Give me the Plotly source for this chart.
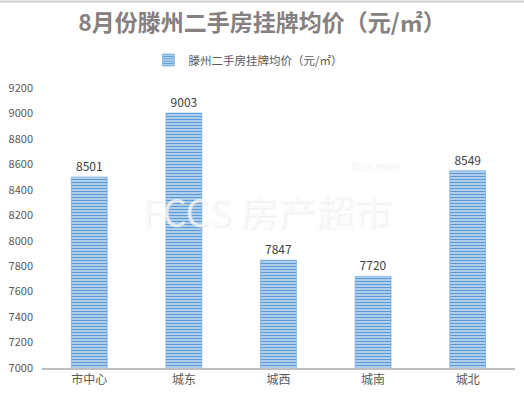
import plotly.graph_objects as go

categories = ["市中心", "城东", "城西", "城南", "城北"]
values = [8501, 9003, 7847, 7720, 8549]
series_name = "滕州二手房挂牌均价（元/㎡）"
title_text = "8月份滕州二手房挂牌均价（元/㎡）"
y_ticks = [7000, 7200, 7400, 7600, 7800, 8000, 8200, 8400, 8600, 8800, 9000, 9200]

fig = go.Figure()
fig.add_trace(go.Bar(
    x=categories, y=values, name=series_name,
    text=[str(v) for v in values], textposition="outside",
    textfont=dict(size=12, color="#404040", family="Noto Sans CJK SC"),
    cliponaxis=False,
    marker=dict(
        color="#c9def3",
        line=dict(width=0.6, color="#6fa5d9"),
        pattern=dict(shape="-", fgcolor="#5b9bd5", bgcolor="#d6e6f6",
                     size=3, solidity=0.55, fillmode="replace"),
    ),
    showlegend=True,
))

fig.update_layout(
    width=524, height=399,
    margin=dict(l=40, r=9, t=88, b=31),
    paper_bgcolor="white", plot_bgcolor="white",
    font=dict(family="Noto Sans CJK SC", color="#595959"),
    bargap=0.62,
    title=dict(text="<b>" + title_text + "</b>", x=0.5, xanchor="center",
               y=1 - 23 / 399, yanchor="middle", yref="container",
               font=dict(size=23, color="#868080", family="Noto Sans CJK SC")),
    legend=dict(orientation="h", x=0.225, xanchor="left", y=1 + 28 / 280,
                yanchor="middle", font=dict(size=11.5, color="#595959"),
                itemwidth=30),
    xaxis=dict(showline=True, linecolor="#bfbfbf", linewidth=1.5,
               ticks="", tickfont=dict(size=12, color="#595959"),
               showgrid=False),
    yaxis=dict(range=[7000, 9200], tickvals=y_ticks, showgrid=False,
               zeroline=False, showline=False, ticks="",
               tickfont=dict(size=11, color="#595959"),
               ticklabelstandoff=8),
)

fig.add_annotation(
    text="FCCS 房产超市", xref="paper", yref="paper", x=0.475, y=0.565,
    showarrow=False, height=40,
    font=dict(size=38, color="rgba(255,255,255,0.7)", family="Noto Sans CJK SC",
              shadow="1px 1px 2px rgba(200,200,200,0.55)"),
)
fig.add_annotation(
    text="fccs.com", xref="paper", yref="paper", x=0.758, y=0.765,
    xanchor="right", showarrow=False,
    font=dict(size=12, color="rgba(255,255,255,0.7)", family="Noto Sans CJK SC",
              shadow="1px 1px 2px rgba(200,200,200,0.55)"),
)
fig.add_shape(type="line", xref="paper", yref="paper", x0=-0.1, x1=1.05,
              y0=1 + 86.5 / 280, y1=1 + 86.5 / 280,
              line=dict(color="#cfcfcf", width=2), layer="above")

fig.write_html("out.html", config={"displayModeBar": False},
               post_script="document.body.style.margin='0px';")
